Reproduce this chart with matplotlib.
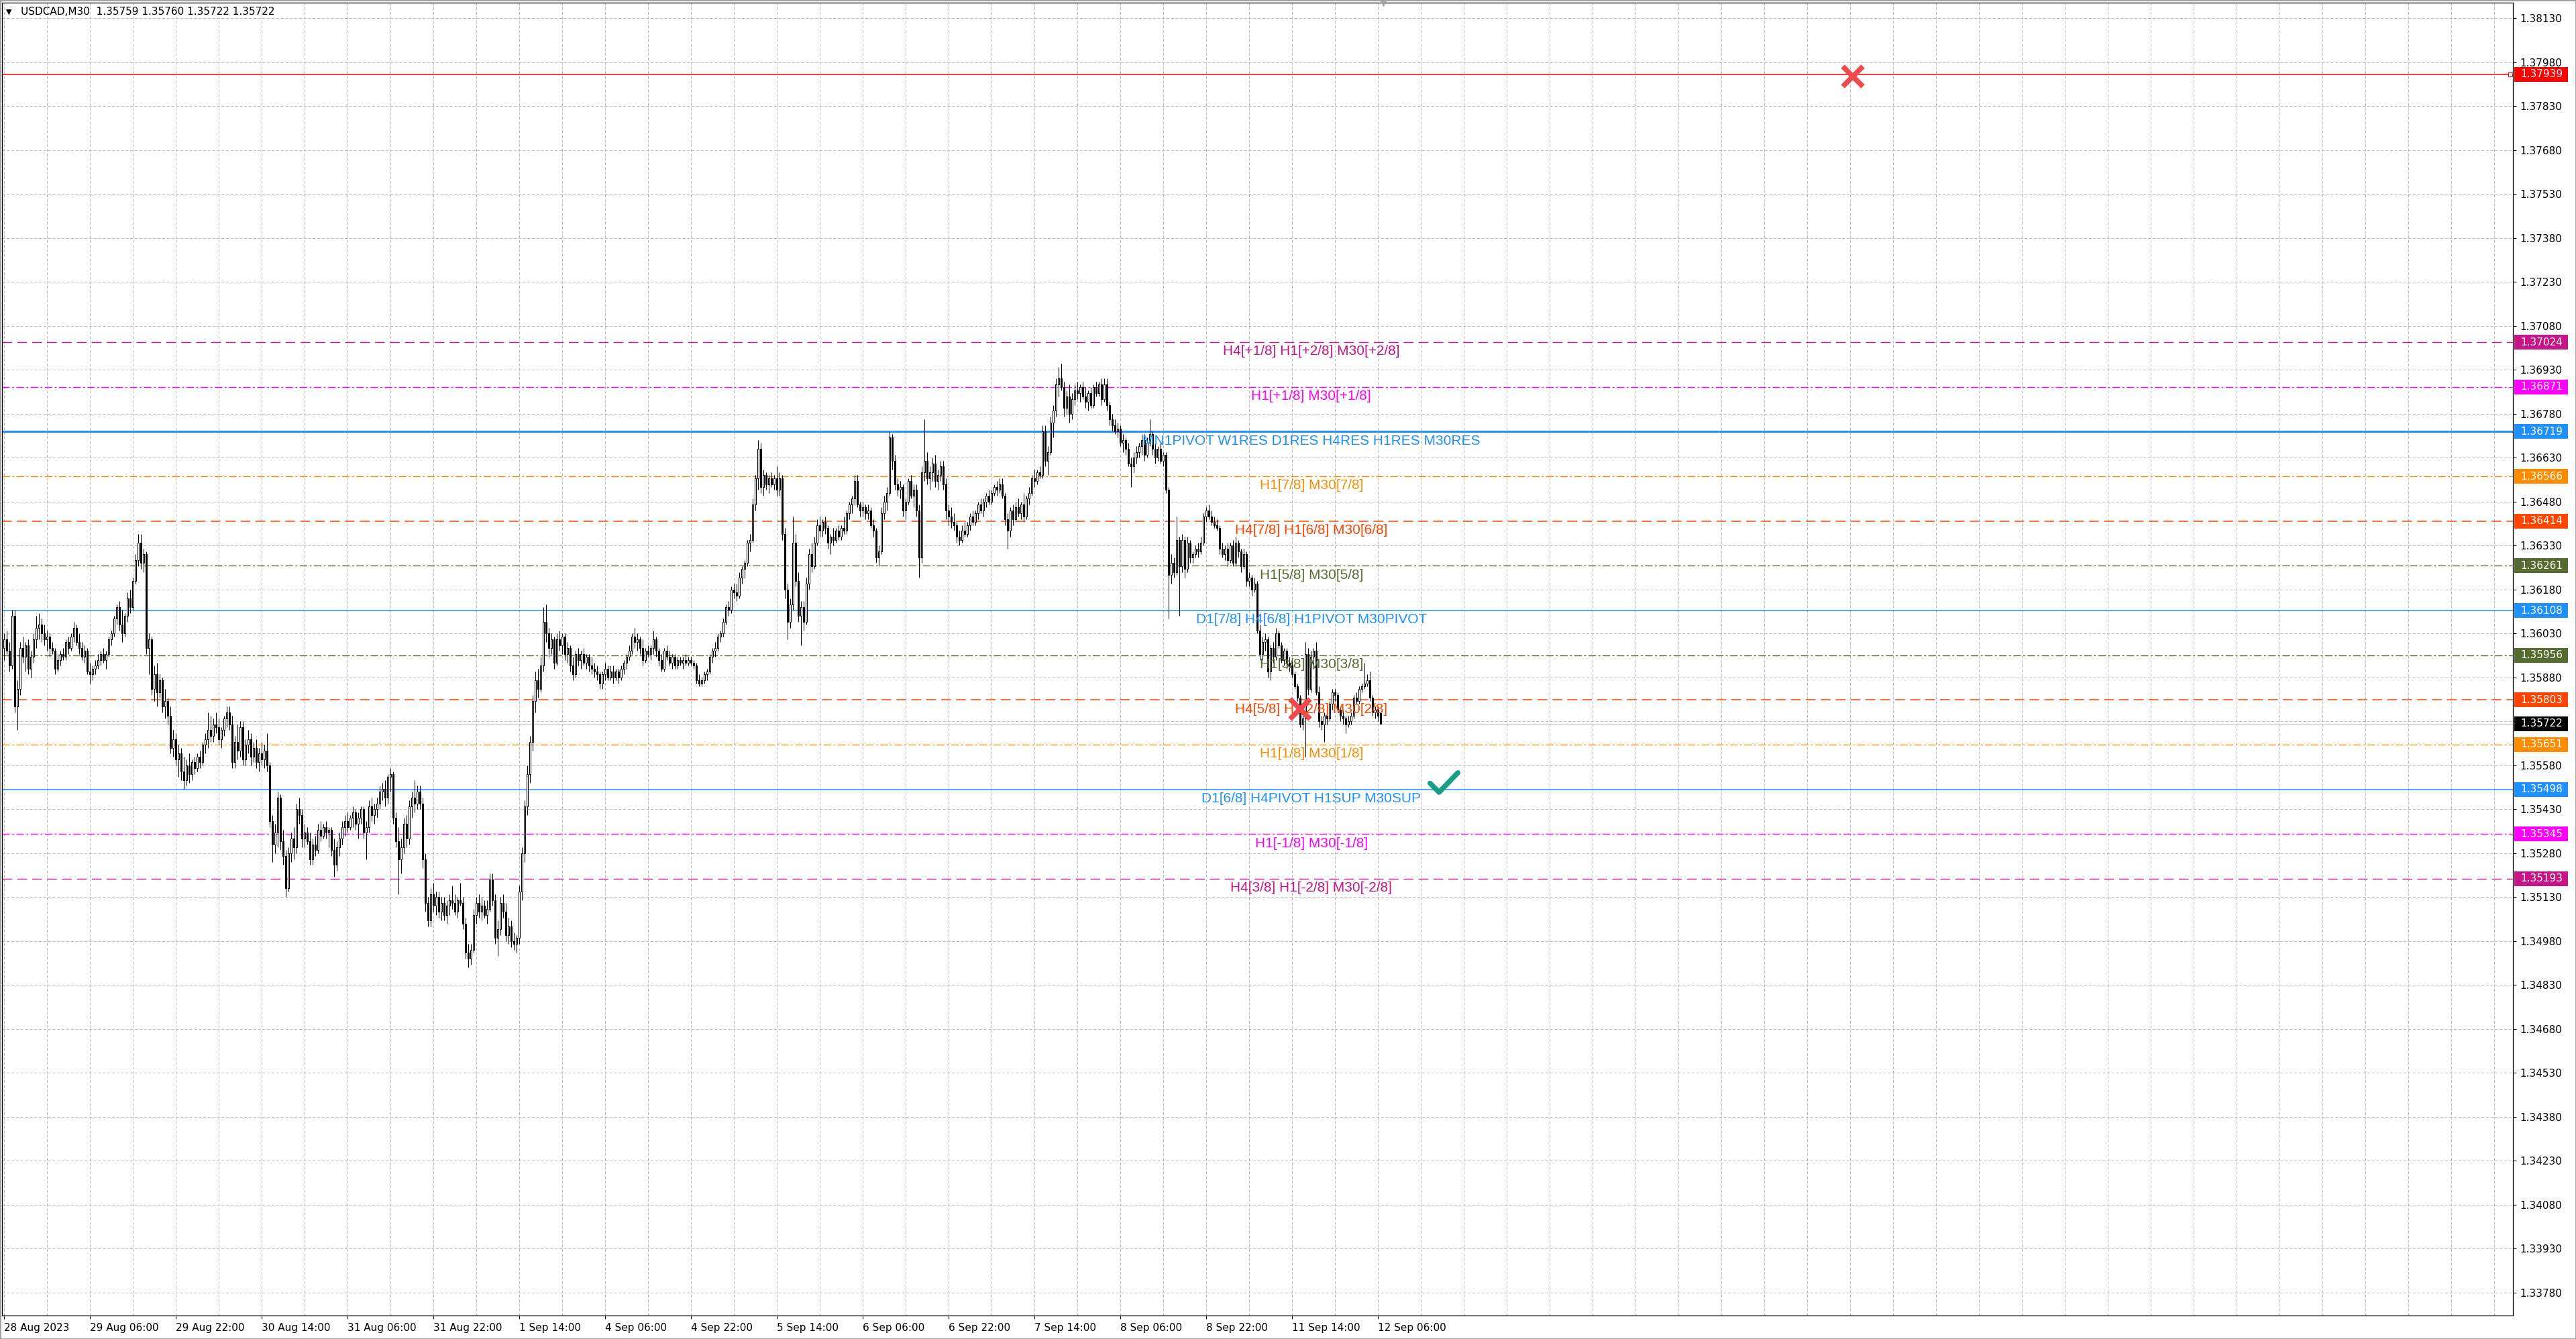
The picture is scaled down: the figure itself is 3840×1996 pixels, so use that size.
import numpy as np
import matplotlib
matplotlib.use("Agg")
import matplotlib.pyplot as plt
from matplotlib.patches import Rectangle
from matplotlib.path import Path
from matplotlib.markers import MarkerStyle
import matplotlib.transforms as mtransforms

# ---------------- data ----------------
symbol_header = "USDCAD,M30  1.35759 1.35760 1.35722 1.35722"

opens = [
    1.3598, 1.3601, 1.3597, 1.3592, 1.3609, 1.3578, 1.3584, 1.3598, 1.3595, 1.3599,
    1.3591, 1.3595, 1.3601, 1.3605, 1.3606, 1.3603, 1.3601, 1.3602, 1.3598, 1.3597,
    1.3591, 1.3594, 1.3596, 1.3595, 1.3600, 1.3598, 1.3602, 1.3605, 1.3600, 1.3598,
    1.3595, 1.3597, 1.3590, 1.3589, 1.3591, 1.3592, 1.3594, 1.3596, 1.3594, 1.3596,
    1.3601, 1.3603, 1.3608, 1.3612, 1.3606, 1.3603, 1.3609, 1.3615, 1.3612, 1.3621,
    1.3628, 1.3634, 1.3627, 1.3630, 1.3598, 1.3601, 1.3584, 1.3589, 1.3583, 1.3587,
    1.3578, 1.3580, 1.3575, 1.3564, 1.3567, 1.3560, 1.3562, 1.3556, 1.3553, 1.3558,
    1.3555, 1.3559, 1.3557, 1.3561, 1.3559, 1.3565, 1.3567, 1.3570, 1.3568, 1.3572,
    1.3571, 1.3567, 1.3570, 1.3574, 1.3576, 1.3572, 1.3559, 1.3566, 1.3563, 1.3571,
    1.3560, 1.3565, 1.3567, 1.3561, 1.3564, 1.3559, 1.3562, 1.3560, 1.3563, 1.3558,
    1.3539, 1.3531, 1.3535, 1.3547, 1.3532, 1.3527, 1.3516, 1.3528, 1.3533, 1.3530,
    1.3543, 1.3541, 1.3533, 1.3535, 1.3532, 1.3526, 1.3531, 1.3529, 1.3536, 1.3534,
    1.3537, 1.3535, 1.3536, 1.3529, 1.3524, 1.3530, 1.3533, 1.3537, 1.3539, 1.3537,
    1.3540, 1.3542, 1.3538, 1.3540, 1.3543, 1.3535, 1.3537, 1.3544, 1.3541, 1.3543,
    1.3545, 1.3549, 1.3550, 1.3547, 1.3554, 1.3555, 1.3540, 1.3532, 1.3526, 1.3530,
    1.3538, 1.3533, 1.3544, 1.3547, 1.3545, 1.3549, 1.3545, 1.3526, 1.3511, 1.3505,
    1.3514, 1.3510, 1.3513, 1.3508, 1.3511, 1.3507, 1.3510, 1.3512, 1.3511, 1.3508,
    1.3512, 1.3511, 1.3504, 1.3494, 1.3492, 1.3495, 1.3507, 1.3511, 1.3508, 1.3510,
    1.3507, 1.3509, 1.3519, 1.3512, 1.3499, 1.3502, 1.3511, 1.3508, 1.3500, 1.3503,
    1.3498, 1.3497, 1.3499, 1.3515, 1.3528, 1.3544, 1.3555, 1.3566, 1.3580, 1.3587,
    1.3584, 1.3592, 1.3607, 1.3603, 1.3598, 1.3601, 1.3593, 1.3601, 1.3599, 1.3602,
    1.3596, 1.3598, 1.3592, 1.3589, 1.3596, 1.3594, 1.3596, 1.3593, 1.3595, 1.3592,
    1.3591, 1.3590, 1.3589, 1.3586, 1.3589, 1.3591, 1.3588, 1.3590, 1.3588, 1.3590,
    1.3588, 1.3591, 1.3593, 1.3595, 1.3597, 1.3602, 1.3600, 1.3601, 1.3598, 1.3594,
    1.3597, 1.3596, 1.3598, 1.3601, 1.3597, 1.3594, 1.3591, 1.3597, 1.3595, 1.3593,
    1.3595, 1.3592, 1.3594, 1.3593, 1.3594, 1.3593, 1.3594, 1.3593, 1.3592, 1.3587,
    1.3586, 1.3587, 1.3589, 1.3590, 1.3595, 1.3597, 1.3598, 1.3602, 1.3603, 1.3607,
    1.3612, 1.3611, 1.3618, 1.3617, 1.3616, 1.3622, 1.3625, 1.3627, 1.3634, 1.3635,
    1.3647, 1.3656, 1.3666, 1.3653, 1.3657, 1.3654, 1.3656, 1.3654, 1.3656, 1.3652,
    1.3656, 1.3637, 1.3618, 1.3607, 1.3613, 1.3634, 1.3621, 1.3609, 1.3612, 1.3607,
    1.3620, 1.3630, 1.3626, 1.3634, 1.3640, 1.3638, 1.3641, 1.3639, 1.3634, 1.3636,
    1.3635, 1.3638, 1.3636, 1.3639, 1.3638, 1.3644, 1.3647, 1.3649, 1.3655, 1.3647,
    1.3645, 1.3646, 1.3644, 1.3645, 1.3640, 1.3638, 1.3629, 1.3631, 1.3644, 1.3648,
    1.3651, 1.3670, 1.3662, 1.3654, 1.3652, 1.3653, 1.3645, 1.3648, 1.3655, 1.3650,
    1.3652, 1.3645, 1.3629, 1.3658, 1.3662, 1.3656, 1.3658, 1.3661, 1.3655, 1.3657,
    1.3660, 1.3654, 1.3645, 1.3643, 1.3641, 1.3640, 1.3636, 1.3635, 1.3638, 1.3637,
    1.3640, 1.3643, 1.3641, 1.3644, 1.3647, 1.3645, 1.3648, 1.3650, 1.3648, 1.3651,
    1.3653, 1.3652, 1.3654, 1.3650, 1.3642, 1.3638, 1.3645, 1.3642, 1.3646, 1.3644,
    1.3647, 1.3643, 1.3649, 1.3651, 1.3656, 1.3655, 1.3658, 1.3657, 1.3672, 1.3662,
    1.3665, 1.3675, 1.3679, 1.3688, 1.3690, 1.3687, 1.3680, 1.3684, 1.3678, 1.3683,
    1.3686, 1.3685, 1.3687, 1.3684, 1.3682, 1.3685, 1.3681, 1.3687, 1.3685, 1.3688,
    1.3683, 1.3688, 1.3681, 1.3676, 1.3674, 1.3672, 1.3673, 1.3668, 1.3669, 1.3666,
    1.3661, 1.3660, 1.3663, 1.3665, 1.3667, 1.3669, 1.3664, 1.3668, 1.3671, 1.3666,
    1.3663, 1.3666, 1.3662, 1.3664, 1.3652, 1.3623, 1.3627, 1.3624, 1.3635, 1.3626,
    1.3635, 1.3625, 1.3634, 1.3629, 1.3630, 1.3632, 1.3631, 1.3634, 1.3643, 1.3645,
    1.3643, 1.3641, 1.3640, 1.3639, 1.3632, 1.3630, 1.3632, 1.3628, 1.3633, 1.3627,
    1.3634, 1.3631, 1.3626, 1.3630, 1.3621, 1.3622, 1.3618, 1.3620, 1.3604, 1.3596,
    1.3600, 1.3601, 1.3590, 1.3598, 1.3595, 1.3603, 1.3599, 1.3594, 1.3597, 1.3593,
    1.3592, 1.3589, 1.3585, 1.3581, 1.3572, 1.3574, 1.3596, 1.3584, 1.3595, 1.3597,
    1.3583, 1.3573, 1.3572, 1.3575, 1.3574, 1.3579, 1.3583, 1.3582, 1.3577, 1.3575,
    1.3574, 1.3572, 1.3573, 1.3575, 1.3581, 1.3580, 1.3584, 1.3585, 1.3586, 1.3587,
    1.3581, 1.3576, 1.3577, 1.35759,
]

highs = [
    1.3603, 1.3604, 1.3600, 1.3611, 1.3611, 1.3587, 1.3600, 1.3602, 1.3600, 1.3601,
    1.3597, 1.3603, 1.3609, 1.3610, 1.3608, 1.3606, 1.3604, 1.3603, 1.3600, 1.3598,
    1.3596, 1.3597, 1.3598, 1.3601, 1.3602, 1.3603, 1.3607, 1.3606, 1.3603, 1.3600,
    1.3599, 1.3598, 1.3593, 1.3592, 1.3594, 1.3596, 1.3597, 1.3598, 1.3597, 1.3602,
    1.3604, 1.3609, 1.3613, 1.3614, 1.3611, 1.3610, 1.3617, 1.3618, 1.3622, 1.3630,
    1.3637, 1.3637, 1.3632, 1.3631, 1.3603, 1.3602, 1.3592, 1.3593, 1.3589, 1.3588,
    1.3584, 1.3581, 1.3578, 1.3570, 1.3569, 1.3565, 1.3564, 1.3561, 1.3560, 1.3562,
    1.3560, 1.3561, 1.3562, 1.3563, 1.3566, 1.3569, 1.3576, 1.3575, 1.3574, 1.3576,
    1.3574, 1.3571, 1.3575, 1.3578, 1.3578, 1.3575, 1.3568, 1.3572, 1.3573, 1.3573,
    1.3567, 1.3570, 1.3569, 1.3566, 1.3567, 1.3564, 1.3566, 1.3565, 1.3569, 1.3559,
    1.3541, 1.3538, 1.3549, 1.3548, 1.3536, 1.3529, 1.3530, 1.3535, 1.3537, 1.3545,
    1.3547, 1.3543, 1.3538, 1.3537, 1.3535, 1.3533, 1.3534, 1.3538, 1.3539, 1.3538,
    1.3539, 1.3537, 1.3537, 1.3533, 1.3532, 1.3535, 1.3539, 1.3541, 1.3542, 1.3541,
    1.3544, 1.3543, 1.3542, 1.3544, 1.3544, 1.3539, 1.3546, 1.3547, 1.3545, 1.3547,
    1.3551, 1.3552, 1.3553, 1.3555, 1.3557, 1.3556, 1.3542, 1.3537, 1.3533, 1.3540,
    1.3541, 1.3546, 1.3549, 1.3553, 1.3551, 1.3551, 1.3547, 1.3528, 1.3513, 1.3516,
    1.3518, 1.3515, 1.3515, 1.3513, 1.3513, 1.3512, 1.3514, 1.3517, 1.3514, 1.3513,
    1.3518, 1.3513, 1.3506, 1.3497, 1.3497, 1.3509, 1.3513, 1.3514, 1.3513, 1.3512,
    1.3512, 1.3521, 1.3521, 1.3514, 1.3505, 1.3513, 1.3514, 1.3511, 1.3506, 1.3505,
    1.3501, 1.3500, 1.3517, 1.3530, 1.3546, 1.3558, 1.3568, 1.3582, 1.3590, 1.3591,
    1.3595, 1.3612, 1.3613, 1.3605, 1.3603, 1.3602, 1.3603, 1.3604, 1.3603, 1.3603,
    1.3600, 1.3599, 1.3595, 1.3597, 1.3598, 1.3597, 1.3598, 1.3596, 1.3596, 1.3595,
    1.3593, 1.3592, 1.3590, 1.3590, 1.3593, 1.3592, 1.3592, 1.3592, 1.3591, 1.3591,
    1.3592, 1.3594, 1.3596, 1.3599, 1.3603, 1.3605, 1.3603, 1.3602, 1.3601, 1.3598,
    1.3599, 1.3599, 1.3604, 1.3602, 1.3598, 1.3596, 1.3598, 1.3599, 1.3597, 1.3596,
    1.3596, 1.3595, 1.3595, 1.3595, 1.3596, 1.3595, 1.3595, 1.3594, 1.3593, 1.3589,
    1.3588, 1.3590, 1.3591, 1.3596, 1.3598, 1.3600, 1.3603, 1.3604, 1.3608, 1.3613,
    1.3614, 1.3619, 1.3620, 1.3620, 1.3624, 1.3626, 1.3628, 1.3635, 1.3637, 1.3649,
    1.3657, 1.3669, 1.3668, 1.3659, 1.3658, 1.3657, 1.3658, 1.3657, 1.3660, 1.3658,
    1.3657, 1.3639, 1.3620, 1.3615, 1.3643, 1.3637, 1.3624, 1.3614, 1.3614, 1.3622,
    1.3632, 1.3634, 1.3636, 1.3642, 1.3643, 1.3642, 1.3643, 1.3640, 1.3637, 1.3639,
    1.3639, 1.3640, 1.3640, 1.3643, 1.3645, 1.3648, 1.3650, 1.3657, 1.3657, 1.3648,
    1.3648, 1.3647, 1.3647, 1.3646, 1.3642, 1.3639, 1.3633, 1.3646, 1.3650, 1.3653,
    1.3672, 1.3671, 1.3664, 1.3656, 1.3655, 1.3654, 1.3649, 1.3656, 1.3657, 1.3654,
    1.3654, 1.3647, 1.3660, 1.3676, 1.3665, 1.3660, 1.3663, 1.3664, 1.3659, 1.3662,
    1.3662, 1.3656, 1.3647, 1.3646, 1.3644, 1.3641, 1.3638, 1.3640, 1.3641, 1.3641,
    1.3644, 1.3645, 1.3645, 1.3648, 1.3649, 1.3649, 1.3651, 1.3652, 1.3652, 1.3654,
    1.3655, 1.3656, 1.3656, 1.3651, 1.3644, 1.3646, 1.3647, 1.3648, 1.3649, 1.3648,
    1.3651, 1.3650, 1.3653, 1.3657, 1.3659, 1.3659, 1.3660, 1.3674, 1.3674, 1.3667,
    1.3677, 1.3681, 1.3690, 1.3694, 1.3695, 1.3689, 1.3686, 1.3688, 1.3685, 1.3688,
    1.3689, 1.3688, 1.3689, 1.3687, 1.3686, 1.3687, 1.3688, 1.3689, 1.3689, 1.3690,
    1.3690, 1.3690, 1.3682, 1.3678, 1.3676, 1.3675, 1.3674, 1.3671, 1.3670, 1.3668,
    1.3663, 1.3665, 1.3667, 1.3668, 1.3671, 1.3671, 1.3670, 1.3676, 1.3672, 1.3668,
    1.3667, 1.3668, 1.3665, 1.3665, 1.3653, 1.3630, 1.3629, 1.3643, 1.3636, 1.3637,
    1.3636, 1.3636, 1.3635, 1.3631, 1.3633, 1.3634, 1.3636, 1.3644, 1.3646, 1.3647,
    1.3645, 1.3643, 1.3642, 1.3640, 1.3634, 1.3633, 1.3634, 1.3634, 1.3635, 1.3636,
    1.3635, 1.3632, 1.3632, 1.3631, 1.3624, 1.3623, 1.3622, 1.3621, 1.3606, 1.3602,
    1.3603, 1.3602, 1.3599, 1.3600, 1.3605, 1.3604, 1.3600, 1.3598, 1.3598, 1.3595,
    1.3594, 1.3590, 1.3586, 1.3582, 1.3576, 1.3600, 1.3598, 1.3597, 1.3598, 1.3600,
    1.3585, 1.3575, 1.3576, 1.3577, 1.3580, 1.3584, 1.3584, 1.3583, 1.3578, 1.3577,
    1.3575, 1.3575, 1.3576, 1.3582, 1.3583, 1.3585, 1.3586, 1.3593, 1.3589, 1.3590,
    1.3582, 1.3578, 1.3578, 1.35760,
]

lows = [
    1.3594, 1.3596, 1.3590, 1.3591, 1.3576, 1.3570, 1.3582, 1.3593, 1.3590, 1.3589,
    1.3588, 1.3593, 1.3598, 1.3601, 1.3600, 1.3599, 1.3597, 1.3595, 1.3596, 1.3589,
    1.3590, 1.3592, 1.3594, 1.3594, 1.3596, 1.3597, 1.3600, 1.3599, 1.3596, 1.3594,
    1.3593, 1.3589, 1.3586, 1.3587, 1.3589, 1.3591, 1.3592, 1.3593, 1.3591, 1.3595,
    1.3599, 1.3602, 1.3606, 1.3604, 1.3600, 1.3602, 1.3607, 1.3610, 1.3611, 1.3620,
    1.3626, 1.3625, 1.3624, 1.3596, 1.3589, 1.3582, 1.3580, 1.3578, 1.3581, 1.3576,
    1.3574, 1.3572, 1.3562, 1.3561, 1.3558, 1.3554, 1.3553, 1.3550, 1.3551, 1.3552,
    1.3553, 1.3555, 1.3556, 1.3557, 1.3558, 1.3562, 1.3564, 1.3566, 1.3566, 1.3569,
    1.3565, 1.3564, 1.3568, 1.3571, 1.3570, 1.3557, 1.3557, 1.3560, 1.3561, 1.3558,
    1.3558, 1.3562, 1.3558, 1.3559, 1.3557, 1.3556, 1.3558, 1.3557, 1.3556, 1.3537,
    1.3525, 1.3528, 1.3530, 1.3529, 1.3524, 1.3513, 1.3515, 1.3525, 1.3526, 1.3528,
    1.3538, 1.3530, 1.3530, 1.3531, 1.3524, 1.3524, 1.3527, 1.3528, 1.3532, 1.3533,
    1.3533, 1.3530, 1.3527, 1.3520, 1.3522, 1.3527, 1.3531, 1.3534, 1.3535, 1.3536,
    1.3537, 1.3536, 1.3533, 1.3538, 1.3533, 1.3526, 1.3535, 1.3539, 1.3538, 1.3540,
    1.3543, 1.3546, 1.3544, 1.3545, 1.3549, 1.3538, 1.3530, 1.3514, 1.3521, 1.3528,
    1.3530, 1.3531, 1.3540, 1.3542, 1.3543, 1.3543, 1.3523, 1.3508, 1.3503, 1.3503,
    1.3508, 1.3507, 1.3506, 1.3505, 1.3505, 1.3504, 1.3507, 1.3509, 1.3507, 1.3506,
    1.3510, 1.3502, 1.3492, 1.3489, 1.3490, 1.3494, 1.3504, 1.3506, 1.3505, 1.3506,
    1.3504, 1.3508, 1.3510, 1.3497, 1.3493, 1.3500, 1.3506, 1.3498, 1.3497, 1.3496,
    1.3495, 1.3494, 1.3497, 1.3512, 1.3525, 1.3541, 1.3552, 1.3563, 1.3576, 1.3581,
    1.3583, 1.3590, 1.3600, 1.3595, 1.3596, 1.3591, 1.3592, 1.3597, 1.3596, 1.3594,
    1.3593, 1.3590, 1.3587, 1.3588, 1.3592, 1.3591, 1.3592, 1.3591, 1.3590, 1.3589,
    1.3588, 1.3587, 1.3584, 1.3584, 1.3587, 1.3587, 1.3587, 1.3586, 1.3587, 1.3586,
    1.3587, 1.3589, 1.3591, 1.3594, 1.3596, 1.3598, 1.3597, 1.3596, 1.3592, 1.3593,
    1.3595, 1.3594, 1.3596, 1.3595, 1.3592, 1.3590, 1.3590, 1.3594, 1.3592, 1.3591,
    1.3591, 1.3591, 1.3592, 1.3591, 1.3592, 1.3592, 1.3592, 1.3591, 1.3586, 1.3585,
    1.3585, 1.3586, 1.3587, 1.3589, 1.3593, 1.3595, 1.3597, 1.3600, 1.3602, 1.3606,
    1.3609, 1.3610, 1.3615, 1.3614, 1.3615, 1.3620, 1.3622, 1.3626, 1.3631, 1.3634,
    1.3645, 1.3652, 1.3651, 1.3650, 1.3652, 1.3651, 1.3653, 1.3652, 1.3650, 1.3650,
    1.3635, 1.3615, 1.3601, 1.3605, 1.3611, 1.3619, 1.3607, 1.3599, 1.3604, 1.3606,
    1.3618, 1.3624, 1.3625, 1.3633, 1.3636, 1.3636, 1.3637, 1.3632, 1.3630, 1.3633,
    1.3634, 1.3635, 1.3635, 1.3637, 1.3637, 1.3642, 1.3644, 1.3647, 1.3646, 1.3643,
    1.3643, 1.3642, 1.3642, 1.3639, 1.3636, 1.3627, 1.3626, 1.3630, 1.3642, 1.3645,
    1.3650, 1.3659, 1.3652, 1.3650, 1.3649, 1.3643, 1.3642, 1.3647, 1.3649, 1.3646,
    1.3643, 1.3622, 1.3627, 1.3655, 1.3654, 1.3652, 1.3655, 1.3653, 1.3652, 1.3655,
    1.3652, 1.3642, 1.3640, 1.3639, 1.3638, 1.3634, 1.3633, 1.3634, 1.3636, 1.3636,
    1.3638, 1.3640, 1.3640, 1.3642, 1.3644, 1.3643, 1.3646, 1.3647, 1.3647, 1.3650,
    1.3650, 1.3651, 1.3649, 1.3640, 1.3632, 1.3636, 1.3640, 1.3641, 1.3643, 1.3642,
    1.3641, 1.3642, 1.3647, 1.3650, 1.3653, 1.3654, 1.3656, 1.3656, 1.3660, 1.3657,
    1.3664, 1.3670, 1.3677, 1.3684, 1.3686, 1.3677, 1.3678, 1.3675, 1.3676, 1.3681,
    1.3683, 1.3682, 1.3683, 1.3680, 1.3679, 1.3680, 1.3680, 1.3684, 1.3684, 1.3681,
    1.3682, 1.3679, 1.3674, 1.3672, 1.3671, 1.3670, 1.3667, 1.3665, 1.3664, 1.3660,
    1.3653, 1.3658, 1.3661, 1.3663, 1.3664, 1.3662, 1.3663, 1.3667, 1.3664, 1.3661,
    1.3662, 1.3661, 1.3660, 1.3651, 1.3608, 1.3620, 1.3622, 1.3623, 1.3609, 1.3624,
    1.3622, 1.3624, 1.3627, 1.3627, 1.3629, 1.3629, 1.3630, 1.3633, 1.3641, 1.3642,
    1.3640, 1.3639, 1.3638, 1.3630, 1.3629, 1.3628, 1.3626, 1.3627, 1.3626, 1.3626,
    1.3629, 1.3624, 1.3625, 1.3619, 1.3619, 1.3616, 1.3617, 1.3603, 1.3594, 1.3594,
    1.3597, 1.3588, 1.3587, 1.3593, 1.3594, 1.3598, 1.3593, 1.3592, 1.3591, 1.3590,
    1.3588, 1.3584, 1.3580, 1.3571, 1.3570, 1.3561, 1.3582, 1.3583, 1.3591, 1.3582,
    1.3571, 1.3570, 1.3566, 1.3572, 1.3573, 1.3577, 1.3580, 1.3576, 1.3573, 1.3572,
    1.3569, 1.3571, 1.3572, 1.3574, 1.3579, 1.3579, 1.3583, 1.3584, 1.3585, 1.3580,
    1.3575, 1.3574, 1.3573, 1.35722,
]

closes = [
    1.3601, 1.3597, 1.3592, 1.3609, 1.3578, 1.3584, 1.3598, 1.3595, 1.3599, 1.3591,
    1.3595, 1.3601, 1.3605, 1.3606, 1.3603, 1.3601, 1.3602, 1.3598, 1.3597, 1.3591,
    1.3594, 1.3596, 1.3595, 1.3600, 1.3598, 1.3602, 1.3605, 1.3600, 1.3598, 1.3595,
    1.3597, 1.3590, 1.3589, 1.3591, 1.3592, 1.3594, 1.3596, 1.3594, 1.3596, 1.3601,
    1.3603, 1.3608, 1.3612, 1.3606, 1.3603, 1.3609, 1.3615, 1.3612, 1.3621, 1.3628,
    1.3634, 1.3627, 1.3630, 1.3598, 1.3601, 1.3584, 1.3589, 1.3583, 1.3587, 1.3578,
    1.3580, 1.3575, 1.3564, 1.3567, 1.3560, 1.3562, 1.3556, 1.3553, 1.3558, 1.3555,
    1.3559, 1.3557, 1.3561, 1.3559, 1.3565, 1.3567, 1.3570, 1.3568, 1.3572, 1.3571,
    1.3567, 1.3570, 1.3574, 1.3576, 1.3572, 1.3559, 1.3566, 1.3563, 1.3571, 1.3560,
    1.3565, 1.3567, 1.3561, 1.3564, 1.3559, 1.3562, 1.3560, 1.3563, 1.3558, 1.3539,
    1.3531, 1.3535, 1.3547, 1.3532, 1.3527, 1.3516, 1.3528, 1.3533, 1.3530, 1.3543,
    1.3541, 1.3533, 1.3535, 1.3532, 1.3526, 1.3531, 1.3529, 1.3536, 1.3534, 1.3537,
    1.3535, 1.3536, 1.3529, 1.3524, 1.3530, 1.3533, 1.3537, 1.3539, 1.3537, 1.3540,
    1.3542, 1.3538, 1.3540, 1.3543, 1.3535, 1.3537, 1.3544, 1.3541, 1.3543, 1.3545,
    1.3549, 1.3550, 1.3547, 1.3554, 1.3555, 1.3540, 1.3532, 1.3526, 1.3530, 1.3538,
    1.3533, 1.3544, 1.3547, 1.3545, 1.3549, 1.3545, 1.3526, 1.3511, 1.3505, 1.3514,
    1.3510, 1.3513, 1.3508, 1.3511, 1.3507, 1.3510, 1.3512, 1.3511, 1.3508, 1.3512,
    1.3511, 1.3504, 1.3494, 1.3492, 1.3495, 1.3507, 1.3511, 1.3508, 1.3510, 1.3507,
    1.3509, 1.3519, 1.3512, 1.3499, 1.3502, 1.3511, 1.3508, 1.3500, 1.3503, 1.3498,
    1.3497, 1.3499, 1.3515, 1.3528, 1.3544, 1.3555, 1.3566, 1.3580, 1.3587, 1.3584,
    1.3592, 1.3607, 1.3603, 1.3598, 1.3601, 1.3593, 1.3601, 1.3599, 1.3602, 1.3596,
    1.3598, 1.3592, 1.3589, 1.3596, 1.3594, 1.3596, 1.3593, 1.3595, 1.3592, 1.3591,
    1.3590, 1.3589, 1.3586, 1.3589, 1.3591, 1.3588, 1.3590, 1.3588, 1.3590, 1.3588,
    1.3591, 1.3593, 1.3595, 1.3597, 1.3602, 1.3600, 1.3601, 1.3598, 1.3594, 1.3597,
    1.3596, 1.3598, 1.3601, 1.3597, 1.3594, 1.3591, 1.3597, 1.3595, 1.3593, 1.3595,
    1.3592, 1.3594, 1.3593, 1.3594, 1.3593, 1.3594, 1.3593, 1.3592, 1.3587, 1.3586,
    1.3587, 1.3589, 1.3590, 1.3595, 1.3597, 1.3598, 1.3602, 1.3603, 1.3607, 1.3612,
    1.3611, 1.3618, 1.3617, 1.3616, 1.3622, 1.3625, 1.3627, 1.3634, 1.3635, 1.3647,
    1.3656, 1.3666, 1.3653, 1.3657, 1.3654, 1.3656, 1.3654, 1.3656, 1.3652, 1.3656,
    1.3637, 1.3618, 1.3607, 1.3613, 1.3634, 1.3621, 1.3609, 1.3612, 1.3607, 1.3620,
    1.3630, 1.3626, 1.3634, 1.3640, 1.3638, 1.3641, 1.3639, 1.3634, 1.3636, 1.3635,
    1.3638, 1.3636, 1.3639, 1.3638, 1.3644, 1.3647, 1.3649, 1.3655, 1.3647, 1.3645,
    1.3646, 1.3644, 1.3645, 1.3640, 1.3638, 1.3629, 1.3631, 1.3644, 1.3648, 1.3651,
    1.3670, 1.3662, 1.3654, 1.3652, 1.3653, 1.3645, 1.3648, 1.3655, 1.3650, 1.3652,
    1.3645, 1.3629, 1.3658, 1.3662, 1.3656, 1.3658, 1.3661, 1.3655, 1.3657, 1.3660,
    1.3654, 1.3645, 1.3643, 1.3641, 1.3640, 1.3636, 1.3635, 1.3638, 1.3637, 1.3640,
    1.3643, 1.3641, 1.3644, 1.3647, 1.3645, 1.3648, 1.3650, 1.3648, 1.3651, 1.3653,
    1.3652, 1.3654, 1.3650, 1.3642, 1.3638, 1.3645, 1.3642, 1.3646, 1.3644, 1.3647,
    1.3643, 1.3649, 1.3651, 1.3656, 1.3655, 1.3658, 1.3657, 1.3672, 1.3662, 1.3665,
    1.3675, 1.3679, 1.3688, 1.3690, 1.3687, 1.3680, 1.3684, 1.3678, 1.3683, 1.3686,
    1.3685, 1.3687, 1.3684, 1.3682, 1.3685, 1.3681, 1.3687, 1.3685, 1.3688, 1.3683,
    1.3688, 1.3681, 1.3676, 1.3674, 1.3672, 1.3673, 1.3668, 1.3669, 1.3666, 1.3661,
    1.3660, 1.3663, 1.3665, 1.3667, 1.3669, 1.3664, 1.3668, 1.3671, 1.3666, 1.3663,
    1.3666, 1.3662, 1.3664, 1.3652, 1.3623, 1.3627, 1.3624, 1.3635, 1.3626, 1.3635,
    1.3625, 1.3634, 1.3629, 1.3630, 1.3632, 1.3631, 1.3634, 1.3643, 1.3645, 1.3643,
    1.3641, 1.3640, 1.3639, 1.3632, 1.3630, 1.3632, 1.3628, 1.3633, 1.3627, 1.3634,
    1.3631, 1.3626, 1.3630, 1.3621, 1.3622, 1.3618, 1.3620, 1.3604, 1.3596, 1.3600,
    1.3601, 1.3590, 1.3598, 1.3595, 1.3603, 1.3599, 1.3594, 1.3597, 1.3593, 1.3592,
    1.3589, 1.3585, 1.3581, 1.3572, 1.3574, 1.3596, 1.3584, 1.3595, 1.3597, 1.3583,
    1.3573, 1.3572, 1.3575, 1.3574, 1.3579, 1.3583, 1.3582, 1.3577, 1.3575, 1.3574,
    1.3572, 1.3573, 1.3575, 1.3581, 1.3580, 1.3584, 1.3585, 1.3586, 1.3587, 1.3581,
    1.3576, 1.3577, 1.3575, 1.35722,
]

x_tick_bars = [0, 32, 64, 96, 128, 160, 192, 224, 256, 288, 320, 352, 384, 416, 448, 480, 512]
x_tick_labels = ["28 Aug 2023", "29 Aug 06:00", "29 Aug 22:00", "30 Aug 14:00", "31 Aug 06:00",
                 "31 Aug 22:00", "1 Sep 14:00", "4 Sep 06:00", "4 Sep 22:00", "5 Sep 14:00",
                 "6 Sep 06:00", "6 Sep 22:00", "7 Sep 14:00", "8 Sep 06:00", "8 Sep 22:00",
                 "11 Sep 14:00", "12 Sep 06:00"]

y_tick_prices = [1.38130, 1.37980, 1.37830, 1.37680, 1.37530, 1.37380, 1.37230, 1.37080,
                 1.36930, 1.36780, 1.36630, 1.36480, 1.36330, 1.36180, 1.36030, 1.35880,
                 1.35730, 1.35580, 1.35430, 1.35280, 1.35130, 1.34980, 1.34830, 1.34680,
                 1.34530, 1.34380, 1.34230, 1.34080, 1.33930, 1.33780]

level_prices = [1.37939, 1.37024, 1.36871, 1.36719, 1.36566, 1.36414, 1.36261, 1.36108,
                1.35956, 1.35803, 1.35722, 1.35651, 1.35498, 1.35345, 1.35193]
level_texts = ["", "H4[+1/8] H1[+2/8] M30[+2/8]", "H1[+1/8] M30[+1/8]",
               "MN1PIVOT W1RES D1RES H4RES H1RES M30RES", "H1[7/8] M30[7/8]",
               "H4[7/8] H1[6/8] M30[6/8]", "H1[5/8] M30[5/8]",
               "D1[7/8] H4[6/8] H1PIVOT M30PIVOT", "H1[3/8] M30[3/8]",
               "H4[5/8] H1[2/8] M30[2/8]", "", "H1[1/8] M30[1/8]",
               "D1[6/8] H4PIVOT H1SUP M30SUP", "H1[-1/8] M30[-1/8]",
               "H4[3/8] H1[-2/8] M30[-2/8]"]

cross_bars = [689, 483]
cross_prices = [1.37932, 1.35771]
check_bars = [536.5]
check_prices = [1.35518]

# ---------------- styles ----------------
level_colors = ['#FF0000', '#C71585', '#FF00FF', '#1E90FF', '#FF8C00', '#FF4500', '#556B2F',
                '#1E90FF', '#556B2F', '#FF4500', '#C0C0C0', '#FF8C00', '#1E90FF', '#FF00FF', '#C71585']
box_colors = ['#FF0000', '#C71585', '#FF00FF', '#1E90FF', '#FF8C00', '#FF4500', '#556B2F',
              '#1E90FF', '#556B2F', '#FF4500', '#000000', '#FF8C00', '#1E90FF', '#FF00FF', '#C71585']
DASH = (0, (10.5, 5.5))
DASHDOT = (0, (8.0, 2.6, 2.0, 2.6))
level_styles = ['-', DASH, DASHDOT, '-', DASHDOT, DASH, DASHDOT, '-', DASHDOT, DASH, '-',
                DASHDOT, '-', DASHDOT, DASH]
level_widths = [1.1, 1.0, 1.0, 2.2, 1.0, 1.1, 1.0, 1.1, 1.0, 1.1, 0.8, 1.0, 1.1, 1.0, 1.0]

plt.rcParams['lines.scale_dashes'] = False
plt.rcParams['font.family'] = ['DejaVu Sans']

W, H = 3840, 1996
AX_L, AX_R, AX_B, AX_T = 3, 3746, 35, 1992
Y_TOP, Y_BOT = 1.38183, 1.33702
X_LEFT, X_RIGHT = -0.65, 935.1
LABEL_BAR = 487.3

fig = plt.figure(figsize=(W / 100, H / 100), dpi=100, facecolor='white')
ax = fig.add_axes([AX_L / W, AX_B / H, (AX_R - AX_L) / W, (AX_T - AX_B) / H])
ax.set_facecolor('white')
ax.set_xlim(X_LEFT, X_RIGHT)
ax.set_ylim(Y_BOT, Y_TOP)

n = min(len(opens), len(highs), len(lows), len(closes))
o = np.array(opens[:n]); h = np.array(highs[:n]); l = np.array(lows[:n]); c = np.array(closes[:n])
idx = np.arange(n)
hi = np.maximum(h, np.maximum(o, c))
lo = np.minimum(l, np.minimum(o, c))

# grid
ax.set_axisbelow(True)
ax.set_xticks(x_tick_bars)
ax.set_xticklabels(x_tick_labels)
ax.set_xticks(list(range(0, 936, 16)), minor=True)
ax.set_yticks(y_tick_prices)
ax.set_yticklabels([f"{v:.5f}" for v in y_tick_prices])
gkw = dict(color='#BDBDBD', linewidth=0.75, linestyle=(0, (3.0, 1.9)))
ax.grid(True, which='both', axis='x', **gkw)
ax.grid(True, which='major', axis='y', **gkw)

# level lines
for p, col, st, lw in zip(level_prices, level_colors, level_styles, level_widths):
    ax.axhline(p, color=col, linestyle=st, linewidth=lw, zorder=2)

# candles
ax.vlines(idx, lo, hi, color='black', linewidth=0.75, zorder=4)
up = c >= o
body_lo = np.minimum(o, c)
body_h = np.abs(c - o)
ax.bar(idx[up], body_h[up], bottom=body_lo[up], width=0.5, facecolor='white',
       edgecolor='black', linewidth=0.75, zorder=5)
ax.bar(idx[~up], body_h[~up], bottom=body_lo[~up], width=0.5, facecolor='black',
       edgecolor='black', linewidth=0.75, zorder=5)

# level texts
for p, t, col in zip(level_prices, level_texts, level_colors):
    if t:
        ax.annotate(t, xy=(LABEL_BAR, p), xytext=(0, -3), textcoords='offset points',
                    ha='center', va='top', color=col, fontsize=15,
                    family=['Liberation Sans', 'DejaVu Sans'], zorder=8)

# signals
ax.plot(cross_bars, cross_prices, linestyle='none', marker='x', markersize=21,
        markeredgewidth=5.5, color='#F04A4E', zorder=9, clip_on=False)
check_path = Path([(-1.0, 0.05), (-0.35, -0.6), (1.0, 0.8)],
                  [Path.MOVETO, Path.LINETO, Path.LINETO])
check_marker = MarkerStyle(check_path, capstyle='round', joinstyle='round')
ax.plot(check_bars, check_prices, linestyle='none', marker=check_marker, markersize=30,
        markeredgewidth=5.5, markeredgecolor='#17A085', markerfacecolor='none', zorder=9)

# right-side price boxes
blend = mtransforms.blended_transform_factory(ax.transAxes, ax.transData)
axw = AX_R - AX_L
px_per_unit = (AX_T - AX_B) / (Y_TOP - Y_BOT)
box_h = 22 / px_per_unit
for p, bc in zip(level_prices, box_colors):
    ax.add_patch(Rectangle((1 + 2 / axw, p - box_h / 2), 80 / axw, box_h, transform=blend,
                           facecolor=bc, edgecolor='none', clip_on=False, zorder=10))
    ax.text(1 + 11 / axw, p, f"{p:.5f}", transform=blend, ha='left', va='center',
            color='white', fontsize=11, clip_on=False, zorder=11)

# small square at end of red line and shift marker
ax.plot([1 - 4 / axw], [level_prices[0]], transform=blend, marker='s', markersize=4,
        markerfacecolor='white', markeredgecolor='#FF0000', markeredgewidth=0.8,
        linestyle='none', zorder=9, clip_on=False)
ax.plot([n], [Y_TOP], marker='v', markersize=7, color='#A8A8A8', linestyle='none',
        clip_on=False, zorder=12)

# axes styling
ax.yaxis.tick_right()
for s in ax.spines.values():
    s.set_color('black')
    s.set_linewidth(0.9)
ax.tick_params(axis='y', which='major', length=3.6, width=0.75, pad=4, labelsize=11,
               colors='black')
ax.tick_params(axis='x', which='major', length=3.6, width=0.75, pad=4, labelsize=11,
               colors='black')
ax.tick_params(axis='x', which='minor', length=0)
for lab in ax.get_xticklabels():
    lab.set_horizontalalignment('left')

# header
fig.text(9 / W, 1 - 18 / H, "\u25BC", fontsize=8, va='center', ha='left', color='black')
fig.text(31 / W, 1 - 18 / H, symbol_header, fontsize=11, va='center', ha='left', color='black')

# window frame
fig.patches.append(Rectangle((0, 0), 1, 1, transform=fig.transFigure, fill=False,
                             edgecolor='#A0A0A0', linewidth=2))

fig.savefig("out.png", dpi=100, facecolor='white')
